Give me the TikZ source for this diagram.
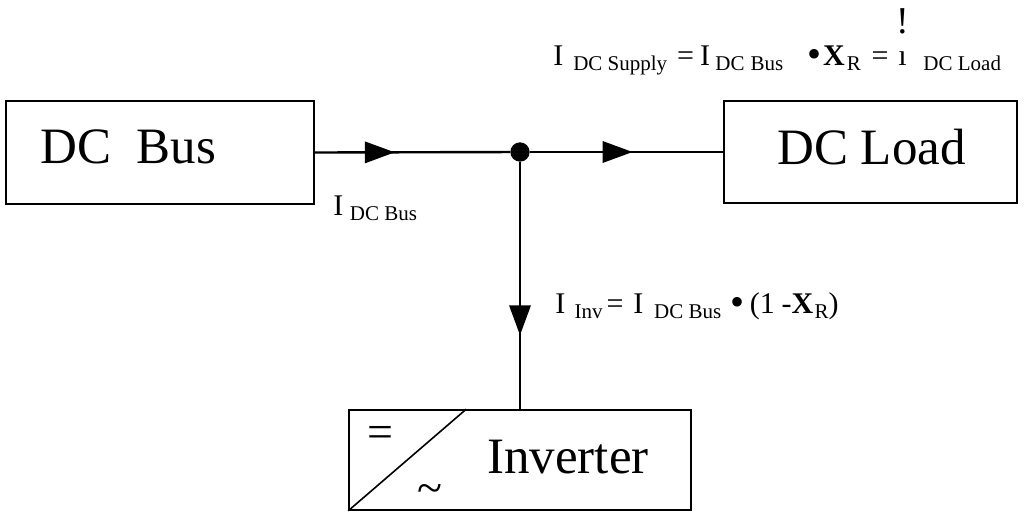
\documentclass[tikz,border=0pt]{standalone}
\usepackage{fontspec}
\setmainfont{Liberation Serif}
\usetikzlibrary{arrows.meta,decorations.markings}
\newcommand{\sbs}[1]{\raisebox{-3.75pt}{\fontsize{15.75pt}{18pt}\selectfont #1}}
\newcommand{\bigbul}{\raisebox{-2.2pt}{\fontsize{30pt}{30pt}\selectfont\textbullet}}
\tikzset{
  box/.style={draw, line width=1.2pt, rectangle, inner sep=0pt},
  wire/.style={line width=1.8pt},
  bigtext/.style={anchor=base west, inner sep=0pt, font=\fontsize{38.25pt}{40pt}\selectfont},
  formula/.style={anchor=base west, inner sep=0pt, font=\fontsize{22.5pt}{26pt}\selectfont},
  sym/.style={anchor=base, inner sep=0pt, font=\fontsize{34.5pt}{36pt}\selectfont},
  tipat/.style={postaction={decorate}, decoration={markings,
      mark=at position #1 with {\arrow{Triangle[length=22.5pt,width=16pt]}}}},
  dot/.style={circle, fill, inner sep=0pt, minimum size=14.5pt}
}
\begin{document}
\begin{tikzpicture}[x=0.75pt, y=-0.75pt]
\useasboundingbox (0,0) rectangle (1025,515);
% boxes
\node[box, minimum width=231pt, minimum height=77.25pt] (bus) at (160,152.5) {};
\node[box, minimum width=219.75pt, minimum height=76.5pt] (load) at (870.5,152) {};
\node[box, minimum width=256.5pt, minimum height=75pt] (inv) at (520,460) {};
\node[bigtext] (bustext) at (40,163) {DC\ \ Bus};
\node[bigtext] (loadtext) at (777,164) {DC Load};
\node[bigtext] (invtext) at (487,473) {Inverter};
% inverter symbol
\draw[line width=1.2pt] (inv.south west) -- ([xshift=88.5pt]inv.north west);
\node[sym] (eq) at (380,447) {=};
\node[sym] (ac) at (430,503) {\textasciitilde};
% junction
\node[dot] (j) at (520,152) {};
% connectors
\draw[wire, tipat=60pt] (bus.east) -- (j);
\draw[wire, tipat=77pt] (j) -- (load.west);
\draw[wire, tipat=130pt] (j) -- (inv.north);
% labels
\node[formula] (ibus) at (333,215) {I\hspace{5pt}\sbs{DC Bus}};
\node[formula] (isup) at (553,65) {I\hspace{7.5pt}\sbs{DC Supply}\hspace{7.5pt}=\hspace{4.5pt}I\hspace{3.5pt}\sbs{\hspace{0.5pt}DC\hspace{0.5pt} Bus}\hspace{18pt}\bigbul\hspace{1.5pt}\textbf{X}\hspace{1.5pt}\sbs{R}\hspace{8pt}=\hspace{7.5pt}\rlap{\hspace{-1.6pt}\raisebox{24pt}{\fontsize{28.5pt}{30pt}\selectfont !}}\i\hspace{12.5pt}\sbs{DC Load}};
\node[formula] (iinv) at (555,313) {I\hspace{7pt}\sbs{Inv}\hspace{3pt}=\hspace{7.5pt}I\hspace{8pt}\sbs{DC Bus}\hspace{7pt}\bigbul\hspace{4pt}(1\hspace{5pt}-\textbf{X}\hspace{1pt}\sbs{R})};
\end{tikzpicture}
\end{document}
